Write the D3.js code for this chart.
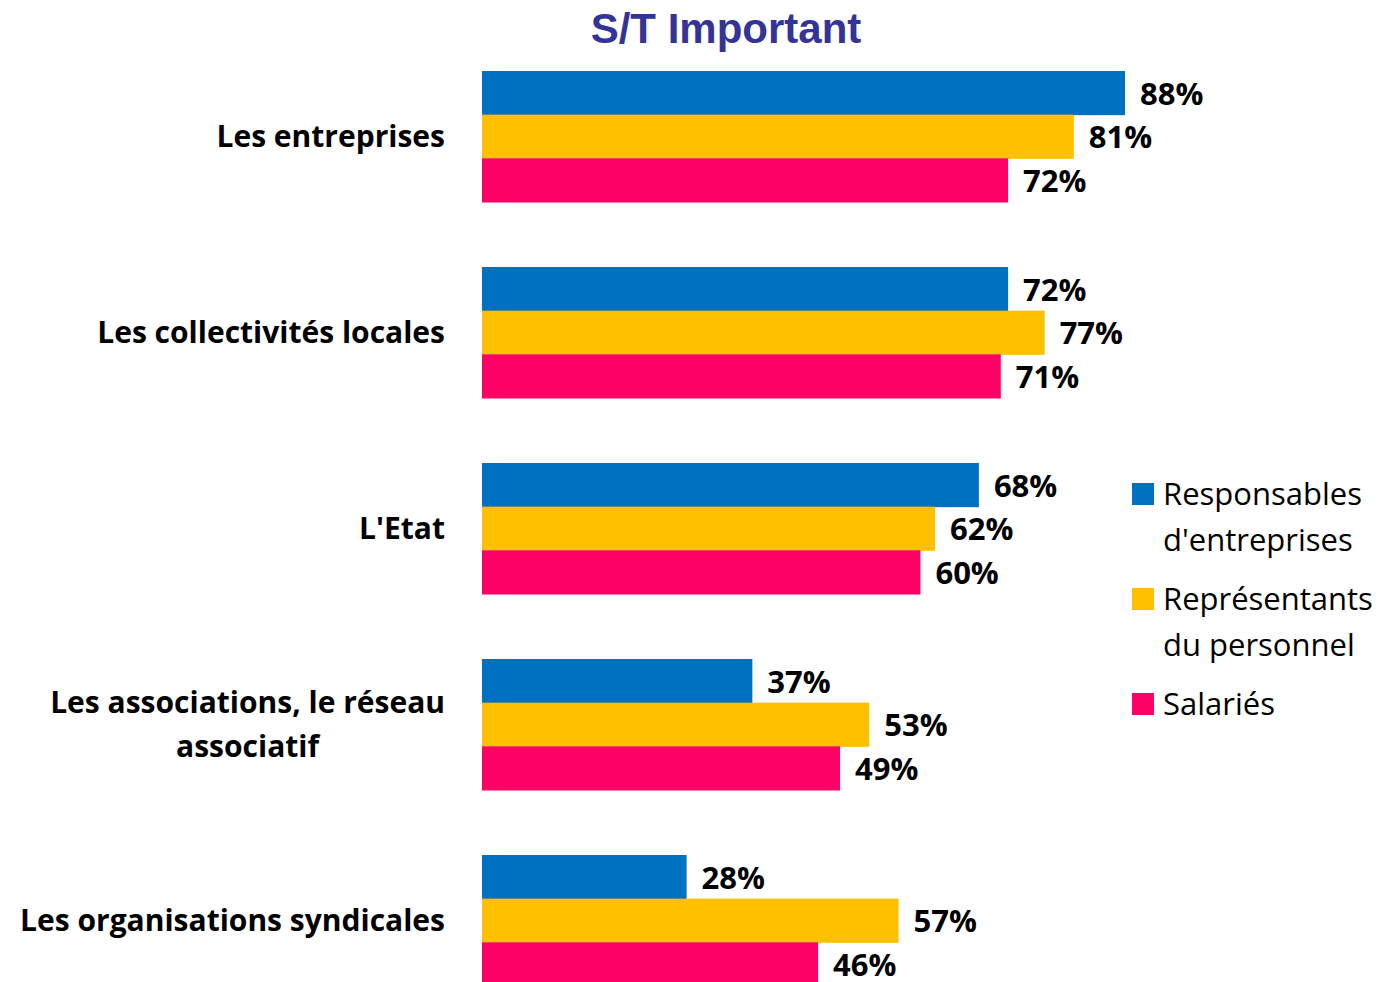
<!DOCTYPE html>
<html>
<head>
<meta charset="utf-8">
<script src="https://cdnjs.cloudflare.com/ajax/libs/d3/7.8.5/d3.min.js"></script>
<style>
  body { margin: 0; background: #fff; }
</style>
</head>
<body>
<div id="chart"></div>
<script>
var categories = [
    ["Les entreprises"],
    ["Les collectivités locales"],
    ["L'Etat"],
    ["Les associations, le réseau", "associatif"],
    ["Les organisations syndicales"]
];
var seriesNames = [
    ["Responsables", "d'entreprises"],
    ["Représentants", "du personnel"],
    ["Salariés"]
];
var colors = ["#0070C0", "#FFC000", "#FF0066"];
var responsables = [88, 72, 68, 37, 28];
var representants = [81, 77, 62, 53, 57];
var salaries = [72, 71, 60, 49, 46];
var series = [responsables, representants, salaries];

var width = 1381, height = 982;

var svg = d3.select("#chart").append("svg")
    .attr("width", width)
    .attr("height", height);

// title
svg.append("text")
    .attr("x", 726)
    .attr("y", 43)
    .attr("text-anchor", "middle")
    .style("font-family", "Liberation Sans, Arial, sans-serif")
    .style("font-weight", "bold")
    .style("font-size", "42px")
    .style("fill", "#333399")
    .text("S/T Important");

var catIdx = d3.range(categories.length);
var y0 = d3.scaleBand()
    .domain(catIdx)
    .range([71, 986])
    .paddingInner(65 / 196)
    .paddingOuter(0);

var y1 = d3.scaleBand()
    .domain(d3.range(series.length))
    .range([0, y0.bandwidth()]);

var x = d3.scaleLinear().domain([0, 100]).range([482, 482 + 730.7]);

var groups = svg.selectAll("g.cat")
    .data(catIdx)
    .enter().append("g")
    .attr("class", "cat")
    .attr("transform", function (i) { return "translate(0," + y0(i) + ")"; });

groups.selectAll("rect")
    .data(function (i) { return series.map(function (s, k) { return { k: k, v: s[i] }; }); })
    .enter().append("rect")
    .attr("x", x(0))
    .attr("y", function (d) { return y1(d.k); })
    .attr("width", function (d) { return x(d.v) - x(0); })
    .attr("height", y1.bandwidth() + 0.5)
    .style("fill", function (d) { return colors[d.k]; });

groups.selectAll("text.val")
    .data(function (i) { return series.map(function (s, k) { return { k: k, v: s[i] }; }); })
    .enter().append("text")
    .attr("class", "val")
    .attr("x", function (d) { return x(d.v) + 15; })
    .attr("y", function (d) { return y1(d.k) + y1.bandwidth() / 2 + 1; })
    .attr("dy", "0.35em")
    .style("font-family", "Open Sans, sans-serif")
    .style("font-weight", "bold")
    .style("font-size", "31px")
    .style("fill", "#000")
    .text(function (d) { return d.v + "%"; });

// category labels
var catLabels = groups.append("text")
    .attr("x", 445)
    .attr("y", y0.bandwidth() / 2)
    .attr("text-anchor", "end")
    .style("font-family", "Open Sans, sans-serif")
    .style("font-weight", "bold")
    .style("font-size", "30px")
    .style("fill", "#000");

catLabels.each(function (i) {
    var lines = categories[i];
    var t = d3.select(this);
    var lh = 44;
    lines.forEach(function (line, j) {
        t.append("tspan")
            .attr("x", 445)
            .attr("y", y0.bandwidth() / 2 + (j - (lines.length - 1) / 2) * lh)
            .attr("dy", "0.35em")
            .text(line);
    });
});
// center the second line of the multi-line label under the first
catLabels.filter(function (i) { return categories[i].length > 1; })
    .each(function () {
        var spans = d3.select(this).selectAll("tspan").nodes();
        var w0 = spans[0].getComputedTextLength();
        spans.forEach(function (s) {
            d3.select(s).attr("x", 445 - w0 / 2);
        });
        d3.select(this).attr("text-anchor", "middle");
    });

// legend
var legendY = [505, 610, 715];
var legend = svg.selectAll("g.leg")
    .data(d3.range(seriesNames.length))
    .enter().append("g")
    .attr("class", "leg");

legend.append("rect")
    .attr("x", 1132)
    .attr("y", function (k) { return legendY[k] - 22; })
    .attr("width", 22)
    .attr("height", 22)
    .style("fill", function (k) { return colors[k]; });

legend.append("text")
    .style("font-family", "Open Sans, sans-serif")
    .style("font-size", "31px")
    .style("fill", "#000")
    .each(function (k) {
        var t = d3.select(this);
        seriesNames[k].forEach(function (line, j) {
            t.append("tspan")
                .attr("x", 1163)
                .attr("y", legendY[k] + j * 46)
                .text(line);
        });
    });
</script>
</body>
</html>
